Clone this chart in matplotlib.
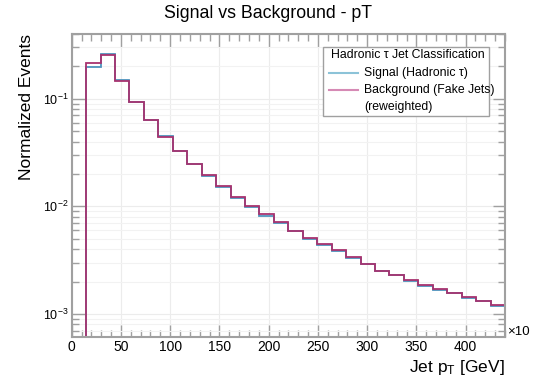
import numpy as np
import matplotlib
matplotlib.use("Agg")
import matplotlib.pyplot as plt
from matplotlib.patches import Rectangle
from matplotlib.ticker import LogLocator, MultipleLocator, NullFormatter, FuncFormatter

plt.rcParams['font.family'] = ['Liberation Sans', 'DejaVu Sans']
plt.rcParams['mathtext.fontset'] = 'custom'
plt.rcParams['mathtext.rm'] = 'Liberation Sans'
plt.rcParams['mathtext.it'] = 'Liberation Sans'

# %% Data (normalized histogram contents, 30 bins from 0 to 440 GeV)
pt_edges = np.linspace(0, 440, 31)
signal = [0.0, 0.197, 0.262, 0.149, 0.094, 0.0640, 0.0446, 0.0326, 0.0245, 0.0192,
          0.0150, 0.0120, 0.0099, 0.0082, 0.0070, 0.0059, 0.0050, 0.00440, 0.00385, 0.00332,
          0.00292, 0.00250, 0.00230, 0.00204, 0.00182, 0.00168, 0.00155, 0.00141, 0.00131, 0.00119]
background = [0.0, 0.215, 0.255, 0.145, 0.0924, 0.0634, 0.0443, 0.0328, 0.0247, 0.0194,
              0.01542, 0.01233, 0.01017, 0.00846, 0.00713, 0.00596, 0.00509, 0.00442, 0.00392, 0.00337,
              0.00294, 0.00253, 0.00231, 0.00207, 0.00186, 0.00170, 0.00156, 0.00145, 0.00132, 0.00121]
x_ticks = [0, 50, 100, 150, 200, 250, 300, 350, 400]
legend_title = "Hadronic \u03c4 Jet Classification"
legend_labels = ["Signal (Hadronic \u03c4)", "Background (Fake Jets)", "(reweighted)"]

sig_color = "#4f93bd"
bkg_color = "#a8336f"
frame_color = "#a0a0a0"

W, H = 546, 385

def px(x, y):
    # pixel position (from top-left) -> figure fraction
    return x / W, 1 - y / H

# %% Figure
fig = plt.figure(figsize=(W / 100, H / 100), dpi=100)
ax = fig.add_axes([71.7 / W, 1 - 337 / H, (505 - 71.7) / W, (337 - 34) / H])

floor = 1e-9  # empty bins drawn at the bottom on log scale
ax.stairs(np.maximum(signal, floor), pt_edges, color=sig_color, lw=1.3, baseline=None)
ax.stairs(np.maximum(background, floor), pt_edges, color=bkg_color, lw=1.3, baseline=None)

ax.set_yscale("log")
ax.set_xlim(0, 440)
ax.set_ylim(6.1e-4, 0.40)

ax.set_xticks(x_ticks)
ax.xaxis.set_minor_locator(MultipleLocator(10))
ax.yaxis.set_major_locator(LogLocator(base=10))
ax.yaxis.set_major_formatter(FuncFormatter(lambda v, p: "$10^{%d}$" % round(np.log10(v))))
ax.yaxis.set_minor_locator(LogLocator(base=10, subs=np.arange(2, 10)))
ax.yaxis.set_minor_formatter(NullFormatter())

ax.tick_params(which="both", direction="in", top=True, right=True, colors=frame_color,
               labelcolor="black")
ax.tick_params(which="major", length=9, width=1)
ax.tick_params(which="minor", length=5, width=1)
ax.tick_params(axis="x", pad=2, labelsize=10)
ax.tick_params(axis="y", pad=2, labelsize=9)

for sp in ax.spines.values():
    sp.set_color(frame_color)
    sp.set_linewidth(1.5)

ax.grid(True, which="major", color="#ececec", lw=0.8)
ax.grid(True, which="minor", axis="y", color="#f2f2f2", lw=0.8)
ax.set_axisbelow(True)

fig.text(*px(268, 14), "Signal vs Background - pT", fontsize=12.8, ha="center", va="center")
ax.set_ylabel("Normalized Events", fontsize=12.5, loc="top")
ax.yaxis.set_label_coords(-0.087, 1)
ax.set_xlabel("Jet p$_\\mathregular{T}$ [GeV]", fontsize=12.5, loc="right")
ax.xaxis.set_label_coords(1, -0.07)

fig.text(*px(507, 332), "\u00d710", fontsize=9.5, va="center", ha="left")

# %% Legend (drawn by hand, ROOT style: text may run past the box)
x0, y0 = px(322.7, 116)
x1, y1 = px(489, 47)
fig.add_artist(Rectangle((x0, y0), x1 - x0, y1 - y0, transform=fig.transFigure,
                         facecolor="white", edgecolor=frame_color, lw=1, zorder=5))
fig.text(*px(407.5, 55.5), legend_title, fontsize=8.8, ha="center", va="center", zorder=6)
row_y = [72.7, 90, 106.7]
handle_colors = ["#8cc3d8", "#d68ab5", None]
for label, yy, c in zip(legend_labels, row_y, handle_colors):
    if c is not None:
        xa, ya = px(329, yy)
        xb, _ = px(358, yy)
        fig.add_artist(plt.Line2D([xa, xb], [ya, ya], transform=fig.transFigure,
                                  color=c, lw=1.5, zorder=6))
    fig.text(*px(364, yy), label, fontsize=8.8, ha="left", va="center", zorder=6)

fig.savefig("out.png", dpi=100)
